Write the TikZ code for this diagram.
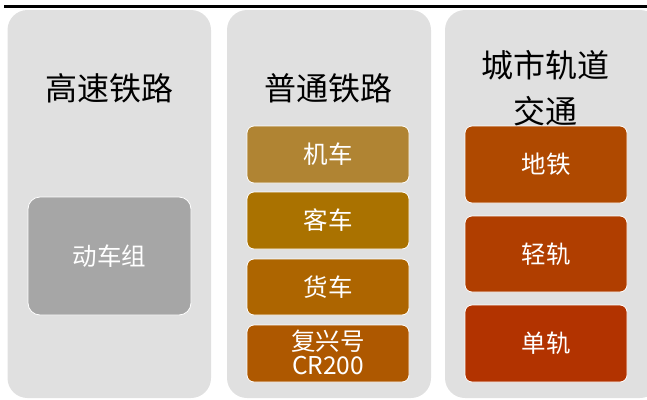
\documentclass[tikz,border=0pt]{standalone}
\usepackage{fontspec}
\setmainfont{Noto Sans CJK SC}
\begin{document}
\begin{tikzpicture}[x=1pt,y=-1pt,
  panel/.style={fill=panelgray,draw=none,rounded corners=20pt},
  item/.style={draw=white,line width=0.8pt,rounded corners=7pt},
  title/.style={font=\fontsize{32}{46}\selectfont,text=black,align=center},
  itemtext/.style={font=\fontsize{24.5}{24}\selectfont,text=white,align=center}]
\definecolor{panelgray}{HTML}{E0E0E0}
\definecolor{cA}{HTML}{A6A6A6}
\definecolor{cB1}{HTML}{B08433}
\definecolor{cB2}{HTML}{AA7200}
\definecolor{cB3}{HTML}{AD6500}
\definecolor{cB4}{HTML}{AE5800}
\definecolor{cC1}{HTML}{AF4900}
\definecolor{cC2}{HTML}{B03E00}
\definecolor{cC3}{HTML}{B23300}
\useasboundingbox (0,0) rectangle (647,399);
\draw[line width=2.5pt] (4,6.5) -- (647,6.5);
% panels
\path[panel] (7.5,10) rectangle (211,398);
\path[panel] (227,10) rectangle (431,398);
\path[panel] (445,10) rectangle (660,398);
% titles
\node[title] (t1) at (109,88) {高速铁路};
\node[title] (t2) at (328,88) {普通铁路};
\node[title] (t3) at (545,88) {城市轨道\\交通};
% column 1
\path[item,fill=cA,rounded corners=12pt] (28,197) rectangle (191,315);
\node[itemtext] (a1) at (109.5,256) {动车组};
% column 2
\path[item,fill=cB1] (247,126) rectangle (409,183);
\node[itemtext] (b1) at (328,154.5) {机车};
\path[item,fill=cB2] (247,192) rectangle (409,249);
\node[itemtext] (b2) at (328,220.5) {客车};
\path[item,fill=cB3] (247,259) rectangle (409,315);
\node[itemtext] (b3) at (328,287) {货车};
\path[item,fill=cB4] (247,325) rectangle (409,382);
\node[itemtext] (b4) at (328,352) {复兴号\\CR200};
% column 3
\path[item,fill=cC1] (465,126) rectangle (627,203);
\node[itemtext] (c1) at (546,164.5) {地铁};
\path[item,fill=cC2] (465,216) rectangle (627,292);
\node[itemtext] (c2) at (546,254) {轻轨};
\path[item,fill=cC3] (465,305) rectangle (627,382);
\node[itemtext] (c3) at (546,343.5) {单轨};
\end{tikzpicture}
\end{document}
